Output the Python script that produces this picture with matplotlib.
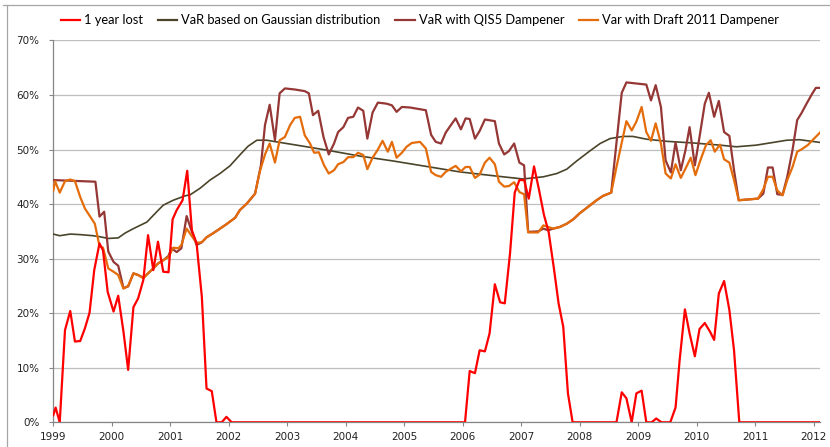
import matplotlib
matplotlib.use("Agg")
import matplotlib.pyplot as plt
from matplotlib.lines import Line2D
from matplotlib.ticker import FuncFormatter

# ---------------- data (decimal years, percent) ----------------
lost_x = [1999.00, 1999.04, 1999.11, 1999.20, 1999.29, 1999.37, 1999.46, 1999.54, 1999.62, 1999.70,
          1999.79, 1999.85, 1999.93, 2000.03, 2000.11, 2000.20, 2000.28, 2000.37, 2000.45, 2000.54,
          2000.62, 2000.71, 2000.79, 2000.88, 2000.97, 2001.04, 2001.11, 2001.21, 2001.29, 2001.37,
          2001.45, 2001.54, 2001.62, 2001.71, 2001.79, 2001.88, 2001.96, 2002.05, 2006.04, 2006.12,
          2006.21, 2006.29, 2006.38, 2006.46, 2006.55, 2006.64, 2006.72, 2006.81, 2006.89, 2006.97,
          2007.05, 2007.13, 2007.22, 2007.30, 2007.39, 2007.47, 2007.56, 2007.64, 2007.72, 2007.80,
          2007.88, 2008.63, 2008.72, 2008.80, 2008.89, 2008.97, 2009.06, 2009.14, 2009.23, 2009.31,
          2009.40, 2009.55, 2009.64, 2009.71, 2009.80, 2009.88, 2009.97, 2010.05, 2010.14, 2010.23,
          2010.30, 2010.38, 2010.47, 2010.56, 2010.64, 2010.73, 2012.11]
lost_y = [1.3, 2.7, 0.0, 16.9, 20.4, 14.8, 14.9, 17.2, 20.1, 27.9,
          32.8, 31.5, 23.9, 20.3, 23.2, 16.6, 9.6, 21.1, 22.7, 26.1,
          34.3, 27.9, 33.1, 27.6, 27.5, 37.2, 38.9, 40.7, 46.1, 35.2,
          32.8, 23.0, 6.2, 5.7, 0.0, 0.0, 1.0, 0.0, 0.0, 9.4,
          9.0, 13.2, 13.0, 16.3, 25.3, 22.0, 21.8, 31.0, 42.1, 44.4,
          44.4, 41.0, 46.9, 42.9, 38.0, 34.9, 28.2, 21.8, 17.5, 5.3,
          0.0, 0.0, 5.5, 4.4, 0.0, 5.3, 5.8, 0.0, 0.0, 0.7,
          0.0, 0.0, 2.7, 11.4, 20.7, 16.3, 12.1, 17.1, 18.2, 16.6,
          15.1, 23.6, 25.9, 20.6, 13.2, 0.0, 0.0]

gauss_x = [1999.00, 1999.11, 1999.29, 1999.46, 1999.68, 1999.80, 1999.94, 2000.11, 2000.23, 2000.37,
           2000.60, 2000.77, 2000.88, 2001.05, 2001.25, 2001.34, 2001.51, 2001.68, 2001.85, 2002.02,
           2002.19, 2002.33, 2002.48, 2002.65, 2002.99, 2003.22, 2003.67, 2004.24, 2004.81, 2005.38,
           2005.95, 2006.52, 2007.03, 2007.38, 2007.61, 2007.78, 2007.95, 2008.17, 2008.35, 2008.52,
           2008.74, 2008.91, 2009.14, 2009.49, 2009.94, 2010.40, 2010.68, 2011.02, 2011.31, 2011.54,
           2011.76, 2012.11]
gauss_y = [34.5, 34.2, 34.5, 34.4, 34.2, 34.0, 33.7, 33.8, 34.7, 35.5,
           36.7, 38.6, 39.8, 40.7, 41.5, 41.7, 42.9, 44.4, 45.6, 47.0,
           49.0, 50.6, 51.7, 51.7, 51.1, 50.7, 49.9, 48.8, 47.9, 46.9,
           45.9, 45.2, 44.6, 45.0, 45.6, 46.4, 47.9, 49.7, 51.1, 52.0,
           52.4, 52.4, 51.9, 51.5, 51.2, 50.8, 50.5, 50.8, 51.3, 51.7,
           51.8, 51.3]

qis5_x = [1999.00, 1999.72, 1999.79, 1999.87, 1999.94, 2000.03, 2000.11, 2000.20, 2000.28, 2000.37,
          2000.45, 2000.54, 2000.62, 2000.71, 2000.79, 2000.88, 2000.97, 2001.02, 2001.11, 2001.19,
          2001.28, 2001.37, 2001.45, 2001.54, 2001.62, 2001.74, 2001.85, 2001.96, 2002.11, 2002.19,
          2002.31, 2002.45, 2002.55, 2002.62, 2002.70, 2002.79, 2002.87, 2002.96, 2003.13, 2003.30,
          2003.37, 2003.44, 2003.53, 2003.62, 2003.71, 2003.80, 2003.87, 2003.96, 2004.04, 2004.13,
          2004.21, 2004.30, 2004.37, 2004.46, 2004.55, 2004.70, 2004.79, 2004.87, 2004.96, 2005.10,
          2005.37, 2005.46, 2005.54, 2005.63, 2005.71, 2005.80, 2005.88, 2005.97, 2006.05, 2006.12,
          2006.21, 2006.29, 2006.38, 2006.55, 2006.62, 2006.71, 2006.79, 2006.88, 2006.97, 2007.05,
          2007.12, 2007.29, 2007.38, 2007.46, 2007.55, 2007.66, 2007.78, 2007.89, 2008.00, 2008.17,
          2008.29, 2008.40, 2008.54, 2008.72, 2008.80, 2009.14, 2009.22, 2009.30, 2009.39, 2009.47,
          2009.56, 2009.64, 2009.73, 2009.81, 2009.88, 2009.97, 2010.05, 2010.14, 2010.21, 2010.30,
          2010.38, 2010.47, 2010.56, 2010.64, 2010.72, 2011.05, 2011.14, 2011.22, 2011.30, 2011.38,
          2011.47, 2011.55, 2011.64, 2011.72, 2011.79, 2011.88, 2011.98, 2012.04, 2012.11]
qis5_y = [44.4, 44.1, 37.7, 38.6, 31.3, 29.4, 28.7, 24.6, 24.9, 27.3,
          27.0, 26.5, 27.3, 28.2, 29.1, 29.7, 30.5, 31.9, 31.2, 31.9,
          37.8, 34.9, 32.5, 33.0, 33.9, 34.7, 35.5, 36.3, 37.5, 38.9,
          40.1, 41.9, 47.1, 54.5, 58.2, 51.7, 60.3, 61.2, 61.0, 60.7,
          60.3, 56.3, 57.1, 52.3, 49.1, 51.1, 53.2, 54.1, 55.8, 56.0,
          57.7, 57.1, 52.0, 56.8, 58.6, 58.4, 58.1, 56.9, 57.8, 57.7,
          57.2, 52.7, 51.4, 51.1, 53.1, 54.5, 55.7, 53.7, 55.7, 55.6,
          52.0, 53.4, 55.5, 55.2, 51.1, 49.1, 49.7, 51.1, 47.6, 47.1,
          34.9, 35.0, 35.5, 35.2, 35.5, 35.8, 36.4, 37.2, 38.3, 39.7,
          40.7, 41.5, 42.1, 60.4, 62.3, 61.9, 59.0, 61.8, 57.8, 48.0,
          45.8, 51.3, 46.2, 49.9, 54.1, 47.1, 52.3, 58.4, 60.4, 56.0,
          58.9, 53.2, 52.5, 46.2, 40.7, 41.0, 41.9, 46.7, 46.7, 41.8,
          41.7, 45.0, 49.9, 55.4, 56.6, 58.4, 60.3, 61.3, 61.3]

draft_x = [1999.00, 1999.03, 1999.11, 1999.20, 1999.29, 1999.37, 1999.46, 1999.54, 1999.63, 1999.71,
           1999.79, 1999.85, 1999.94, 2000.03, 2000.11, 2000.20, 2000.28, 2000.37, 2000.45, 2000.54,
           2000.62, 2000.71, 2000.79, 2000.88, 2000.97, 2001.05, 2001.14, 2001.19, 2001.28, 2001.37,
           2001.45, 2001.54, 2001.62, 2001.74, 2001.85, 2001.96, 2002.11, 2002.19, 2002.31, 2002.45,
           2002.53, 2002.62, 2002.70, 2002.79, 2002.87, 2002.96, 2003.05, 2003.13, 2003.22, 2003.30,
           2003.39, 2003.46, 2003.54, 2003.63, 2003.71, 2003.80, 2003.87, 2003.96, 2004.04, 2004.13,
           2004.21, 2004.30, 2004.37, 2004.46, 2004.55, 2004.63, 2004.72, 2004.79, 2004.87, 2004.96,
           2005.04, 2005.13, 2005.27, 2005.37, 2005.46, 2005.54, 2005.63, 2005.71, 2005.80, 2005.88,
           2005.97, 2006.05, 2006.12, 2006.21, 2006.29, 2006.38, 2006.46, 2006.55, 2006.62, 2006.71,
           2006.79, 2006.88, 2006.97, 2007.05, 2007.12, 2007.29, 2007.38, 2007.46, 2007.55, 2007.66,
           2007.78, 2007.89, 2008.00, 2008.17, 2008.29, 2008.40, 2008.54, 2008.63, 2008.72, 2008.80,
           2008.89, 2008.97, 2009.06, 2009.14, 2009.22, 2009.30, 2009.39, 2009.47, 2009.56, 2009.64,
           2009.73, 2009.81, 2009.90, 2009.98, 2010.07, 2010.16, 2010.24, 2010.31, 2010.40, 2010.47,
           2010.56, 2010.64, 2010.72, 2011.05, 2011.14, 2011.22, 2011.30, 2011.38, 2011.47, 2011.55,
           2011.64, 2011.72, 2011.79, 2011.90, 2011.98, 2012.11]
draft_y = [42.5, 44.2, 42.1, 44.2, 44.5, 44.2, 41.3, 39.2, 37.7, 36.4,
           32.3, 32.0, 28.2, 27.6, 27.0, 24.5, 25.0, 27.3, 27.0, 26.4,
           27.3, 28.2, 29.1, 29.7, 30.3, 32.0, 31.9, 32.5, 35.5, 34.1,
           32.9, 33.0, 33.9, 34.7, 35.5, 36.3, 37.5, 38.9, 40.1, 41.9,
           45.9, 49.1, 51.1, 47.6, 51.7, 52.3, 54.5, 55.8, 56.0, 52.6,
           51.1, 49.4, 49.5, 47.1, 45.6, 46.2, 47.3, 47.7, 48.6, 48.6,
           49.4, 49.0, 46.4, 48.5, 50.0, 51.6, 49.6, 51.4, 48.5, 49.4,
           50.5, 51.2, 51.4, 50.2, 45.9, 45.3, 45.0, 45.9, 46.5, 47.0,
           46.0, 46.8, 46.8, 44.8, 45.4, 47.6, 48.5, 47.3, 44.1, 43.2,
           43.3, 44.0, 42.2, 41.8, 34.8, 34.8, 36.1, 35.8, 35.5, 35.8,
           36.4, 37.2, 38.3, 39.7, 40.7, 41.5, 42.1, 46.8, 51.2, 55.2,
           53.5, 55.1, 57.8, 53.2, 51.6, 54.8, 51.1, 45.6, 44.7, 47.3,
           44.8, 46.5, 48.5, 45.3, 48.2, 50.8, 51.7, 49.6, 50.9, 48.2,
           47.6, 44.4, 40.7, 41.0, 42.7, 45.0, 45.0, 42.5, 41.6, 44.4,
           46.8, 49.6, 50.0, 50.8, 51.7, 53.1]

year_ticks = list(range(1999, 2013))
pct_ticks = [0, 10, 20, 30, 40, 50, 60, 70]
labels = ["1 year lost", "VaR based on Gaussian distribution",
          "VaR with QIS5 Dampener", "Var with Draft 2011 Dampener"]
colors = ["#FF0000", "#4A452A", "#953735", "#E46C0A"]

# ---------------- figure ----------------
W, H = 830, 447
fig = plt.figure(figsize=(W / 100, H / 100), dpi=100)
ax = fig.add_axes([53.3 / W, 1 - 422.3 / H, (820 - 53.3) / W, (422.3 - 40.4) / H])

ax.plot(gauss_x, gauss_y, color=colors[1], lw=1.2, zorder=3, label=labels[1])
ax.plot(qis5_x, qis5_y, color=colors[2], lw=1.6, zorder=4, label=labels[2])
ax.plot(draft_x, draft_y, color=colors[3], lw=1.6, zorder=5, label=labels[3])
ax.plot(lost_x, lost_y, color=colors[0], lw=1.6, zorder=6, label=labels[0])

ax.set_xlim(1999, 2012.11)
ax.set_ylim(0, 70)
ax.set_xticks(year_ticks)
ax.set_xticklabels([str(y) for y in year_ticks])
ax.set_yticks(pct_ticks)
ax.yaxis.set_major_formatter(FuncFormatter(lambda v, p: f"{int(v)}%"))

ax.grid(axis="y", color="#BFBFBF", lw=0.9, zorder=0)
ax.set_axisbelow(True)
for s in ["top", "right"]:
    ax.spines[s].set_visible(False)
for s in ["left", "bottom"]:
    ax.spines[s].set_color("#868686")
    ax.spines[s].set_linewidth(0.9)
ax.tick_params(axis="y", length=3, width=0.8, color="#868686", pad=7,
               labelsize=7.5, labelcolor="#222222")
ax.tick_params(axis="x", length=3, width=0.8, color="#868686", pad=4,
               labelsize=7.5, labelcolor="#222222")
for t in ax.get_xticklabels() + ax.get_yticklabels():
    t.set_fontfamily("DejaVu Sans")
for t in ax.get_xticklabels():
    t.set_clip_on(False)

handles = [Line2D([], [], color=c, lw=1.6) for c in colors]
fig.legend(handles, labels, loc="center", bbox_to_anchor=(0.506, 1 - 20.5 / H),
           ncol=4, frameon=False, prop={"family": "Lato", "size": 9.3},
           handlelength=1.5, handletextpad=0.3, columnspacing=1.15,
           borderaxespad=0, borderpad=0)

# chart-area border (top and left)
fig.add_artist(Line2D([3 / W, 1.0], [1 - 4.5 / H, 1 - 4.5 / H], transform=fig.transFigure,
                      color="#A6A6A6", lw=0.9))
fig.add_artist(Line2D([7 / W, 7 / W], [0.0, 1 - 4.5 / H], transform=fig.transFigure,
                      color="#A6A6A6", lw=0.9))

fig.savefig("out.png", dpi=100)
